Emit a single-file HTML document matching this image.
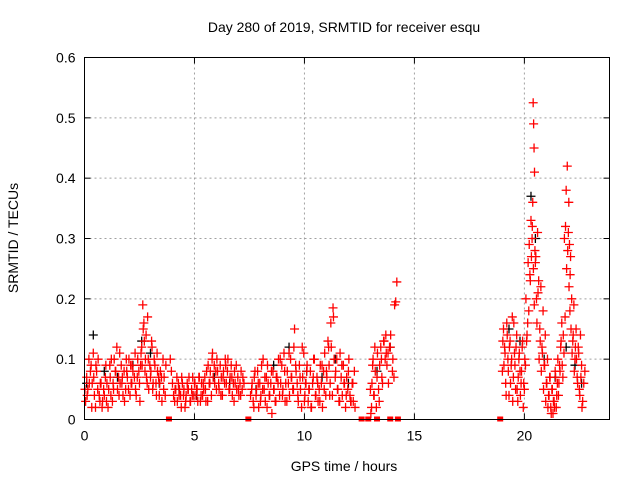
<!DOCTYPE html>
<html><head><meta charset="utf-8"><style>
body{margin:0;background:#fff;}
svg{display:block;font-family:"Liberation Sans",sans-serif;}
</style></head><body>
<svg id="chart" width="640" height="480" xmlns="http://www.w3.org/2000/svg">
<rect width="640" height="480" fill="#fff"/>
<text x="344" y="32" font-size="14" text-anchor="middle">Day 280 of 2019, SRMTID for receiver esqu</text>
<text x="344" y="471" font-size="14" text-anchor="middle">GPS time / hours</text>
<text transform="translate(18,238) rotate(-90)" font-size="14" text-anchor="middle">SRMTID / TECUs</text>
<g id="grid"></g><g id="ticks"></g><g id="marks"></g>
<rect x="84.5" y="57.5" width="525" height="362" fill="none" stroke="#000" stroke-width="1"/>
</svg>
<script>
const xTicks=[0,5,10,15,20];
const yTicks=[0,0.1,0.2,0.3,0.4,0.5,0.6];
const yTickLabels=["0","0.1","0.2","0.3","0.4","0.5","0.6"];
const blackT=[0.1,0.4,0.9,1.5,2.2,2.6,3.0,3.4,4.3,5.1,5.9,6.6,7.8,8.6,9.3,10.1,10.8,11.4,12.0,13.3,13.9,19.3,19.8,20.3,20.5,20.9,21.4,21.9,22.3,22.6];
const blackV=[0.06,0.14,0.08,0.07,0.09,0.13,0.11,0.06,0.05,0.04,0.07,0.06,0.05,0.09,0.12,0.08,0.07,0.1,0.06,0.08,0.12,0.15,0.13,0.37,0.3,0.1,0.07,0.12,0.09,0.06];
const redT=[0.05,0.1,0.15,0.2,0.3,0.35,0.4,0.45,0.5,0.55,0.6,0.7,0.75,0.8,0.9,0.95,1.0,1.1,1.15,1.2,1.3,1.35,1.4,1.5,1.55,1.6,1.7,1.75,1.8,1.9,1.95,2.0,2.1,2.15,2.2,2.3,2.35,2.4,2.5,2.55,2.6,2.65,2.7,2.75,2.8,2.85,2.9,3.0,3.05,3.1,3.2,3.25,3.3,3.4,3.45,3.5,3.6,3.7,
3.9,4.0,4.1,4.15,4.2,4.3,4.4,4.45,4.5,4.6,4.7,4.75,4.8,4.9,5.0,5.1,5.15,5.2,5.3,5.4,5.5,5.55,5.6,5.7,5.8,5.85,5.9,6.0,6.05,6.1,6.2,6.3,6.4,6.45,6.5,6.6,6.7,6.8,6.85,6.9,7.0,7.1,7.2,
7.6,7.7,7.75,7.8,7.9,8.0,8.05,8.1,8.2,8.3,8.35,8.4,8.5,8.6,8.7,8.75,8.8,8.9,9.0,9.1,9.15,9.2,9.3,9.4,9.5,9.55,9.6,9.7,9.8,9.9,10.0,10.05,10.1,10.2,10.3,10.4,10.45,10.5,10.6,10.7,10.8,10.9,11.0,11.1,11.15,11.2,11.3,11.35,11.4,11.5,11.6,11.7,11.8,11.9,12.0,12.1,12.2,12.3,
13.0,13.05,13.1,13.15,13.2,13.3,13.4,13.5,13.55,13.6,13.7,13.75,13.8,13.9,14.0,14.1,14.15,14.2,
19.0,19.05,19.1,19.15,19.2,19.25,19.3,19.35,19.4,19.45,19.5,19.55,19.6,19.65,19.7,19.75,19.8,19.85,19.9,19.95,20.0,20.05,20.1,20.15,20.2,20.25,20.3,20.35,20.38,20.4,20.42,20.44,20.46,20.48,20.5,20.55,20.6,20.65,20.7,20.75,20.8,20.85,20.9,20.95,21.0,21.05,21.1,21.15,21.2,21.25,21.3,21.35,21.4,21.45,21.5,21.55,21.6,21.65,21.7,21.75,21.8,21.85,21.9,21.95,22.0,22.02,22.05,22.08,22.1,22.15,22.2,22.25,22.3,22.35,22.4,22.45,22.5,22.55,22.6,22.65,22.7,22.75];
const redV=[0.03,0.07,0.05,0.1,0.09,0.06,0.11,0.04,0.02,0.08,0.05,0.03,0.06,0.02,0.04,0.07,0.03,0.05,0.09,0.04,0.06,0.1,0.08,0.05,0.07,0.11,0.06,0.04,0.08,0.1,0.07,0.05,0.09,0.06,0.08,0.11,0.04,0.07,0.06,0.09,0.12,0.19,0.16,0.08,0.14,0.06,0.1,0.07,0.13,0.05,0.09,0.06,0.11,0.04,0.08,0.07,0.05,0.09,
0.1,0.06,0.03,0.05,0.07,0.04,0.02,0.06,0.04,0.03,0.05,0.07,0.03,0.04,0.06,0.05,0.03,0.07,0.04,0.06,0.05,0.08,0.03,0.06,0.1,0.07,0.09,0.05,0.08,0.06,0.04,0.07,0.1,0.06,0.08,0.05,0.07,0.03,0.06,0.09,0.05,0.04,0.07,
0.05,0.02,0.08,0.04,0.06,0.03,0.09,0.05,0.07,0.02,0.06,0.04,0.08,0.05,0.03,0.07,0.06,0.1,0.04,0.08,0.06,0.03,0.11,0.07,0.05,0.15,0.09,0.04,0.07,0.12,0.03,0.06,0.08,0.05,0.02,0.07,0.1,0.04,0.06,0.03,0.09,0.05,0.08,0.12,0.04,0.16,0.185,0.1,0.07,0.05,0.03,0.09,0.06,0.04,0.08,0.03,0.06,0.02,
0.05,0.02,0.09,0.04,0.12,0.07,0.03,0.1,0.06,0.13,0.14,0.09,0.11,0.12,0.08,0.19,0.195,0.228,
0.08,0.15,0.12,0.06,0.16,0.1,0.04,0.13,0.09,0.17,0.07,0.11,0.05,0.14,0.03,0.1,0.08,0.06,0.12,0.02,0.05,0.09,0.13,0.16,0.18,0.24,0.33,0.3,0.36,0.525,0.49,0.45,0.41,0.28,0.26,0.2,0.31,0.23,0.15,0.22,0.12,0.18,0.09,0.14,0.06,0.1,0.04,0.07,0.02,0.05,0.01,0.03,0.08,0.02,0.06,0.04,0.09,0.12,0.16,0.07,0.11,0.17,0.38,0.42,0.31,0.36,0.29,0.24,0.27,0.2,0.13,0.19,0.1,0.15,0.07,0.12,0.05,0.14,0.09,0.03,0.06,0.08];
const red2T=[0.02,0.12,0.22,0.27,0.33,0.42,0.52,0.62,0.67,0.72,0.82,0.87,0.97,1.02,1.07,1.17,1.22,1.27,1.32,1.42,1.47,1.57,1.62,1.67,1.72,1.82,1.87,1.92,2.02,2.07,2.12,2.17,2.27,2.32,2.42,2.47,2.52,2.57,2.62,2.67,2.72,2.77,2.82,2.87,2.92,2.97,3.02,3.07,3.12,3.17,3.27,3.32,3.37,3.42,3.52,3.57,3.62,3.67,
3.95,4.05,4.12,4.22,4.27,4.32,4.37,4.42,4.52,4.57,4.62,4.67,4.72,4.82,4.87,4.92,4.97,5.02,5.07,5.12,5.22,5.27,5.32,5.37,5.42,5.47,5.52,5.62,5.67,5.72,5.77,5.82,5.92,5.97,6.02,6.12,6.17,6.22,6.27,6.32,6.37,6.42,6.52,6.57,6.62,6.67,6.72,6.77,6.82,6.92,6.97,7.02,7.07,7.12,7.17,7.25,
7.55,7.62,7.67,7.72,7.82,7.87,7.92,7.97,8.02,8.12,8.17,8.22,8.27,8.32,8.42,8.47,8.52,8.57,8.62,8.67,8.72,8.82,8.87,8.92,8.97,9.02,9.07,9.12,9.22,9.27,9.32,9.37,9.42,9.47,9.52,9.62,9.67,9.72,9.77,9.82,9.87,9.92,9.97,10.02,10.07,10.12,10.17,10.22,10.27,10.32,10.37,10.42,10.52,10.57,10.62,10.67,10.72,10.77,10.82,10.87,10.92,10.97,11.02,11.07,11.12,11.17,11.22,11.27,11.32,11.42,11.47,11.52,11.57,11.62,11.67,11.72,11.77,11.82,11.87,11.92,11.97,12.02,12.07,12.12,12.17,12.22,12.27,
13.02,13.07,13.12,13.17,13.22,13.27,13.32,13.37,13.42,13.47,13.52,13.62,13.67,13.72,13.82,13.87,13.92,14.02,14.07,
19.02,19.07,19.12,19.17,19.22,19.27,19.32,19.37,19.42,19.47,19.52,19.57,19.62,19.67,19.72,19.77,19.82,19.87,19.92,19.97,20.02,20.07,20.12,20.17,20.22,20.27,20.32,20.36,20.41,20.45,20.52,20.57,20.62,20.67,20.72,20.77,20.82,20.87,20.92,20.97,21.02,21.07,21.12,21.17,21.22,21.27,21.32,21.37,21.42,21.47,21.52,21.57,21.62,21.67,21.72,21.77,21.82,21.87,21.92,21.97,22.03,22.07,22.12,22.17,22.22,22.27,22.32,22.37,22.42,22.47,22.52,22.57,22.62,22.67,22.72];
const red2V=[0.05,0.04,0.06,0.08,0.02,0.07,0.09,0.1,0.04,0.06,0.03,0.05,0.09,0.06,0.02,0.07,0.1,0.03,0.05,0.08,0.12,0.04,0.06,0.09,0.07,0.03,0.05,0.08,0.1,0.04,0.06,0.09,0.07,0.05,0.1,0.08,0.03,0.11,0.09,0.15,0.13,0.1,0.07,0.17,0.05,0.09,0.08,0.12,0.06,0.1,0.04,0.08,0.07,0.06,0.03,0.1,0.07,0.04,
0.08,0.04,0.05,0.03,0.06,0.05,0.04,0.07,0.05,0.02,0.04,0.06,0.05,0.03,0.05,0.07,0.04,0.06,0.04,0.05,0.07,0.03,0.06,0.04,0.05,0.07,0.03,0.09,0.06,0.08,0.04,0.11,0.06,0.08,0.1,0.05,0.09,0.07,0.04,0.08,0.06,0.09,0.1,0.05,0.07,0.09,0.04,0.06,0.08,0.05,0.07,0.04,0.06,0.08,0.05,0.06,
0.04,0.06,0.03,0.07,0.05,0.08,0.02,0.06,0.04,0.1,0.05,0.03,0.07,0.09,0.04,0.06,0.01,0.08,0.05,0.03,0.07,0.1,0.04,0.06,0.09,0.05,0.11,0.03,0.08,0.06,0.04,0.1,0.07,0.05,0.12,0.08,0.06,0.03,0.09,0.05,0.02,0.07,0.11,0.04,0.06,0.09,0.03,0.05,0.08,0.02,0.06,0.1,0.04,0.07,0.03,0.05,0.09,0.06,0.02,0.08,0.11,0.04,0.07,0.13,0.09,0.06,0.12,0.04,0.17,0.08,0.1,0.05,0.03,0.11,0.07,0.04,0.09,0.06,0.02,0.07,0.05,0.1,0.04,0.03,0.06,
0.03,0.08,0.01,0.06,0.1,0.04,0.08,0.02,0.11,0.05,0.09,0.12,0.07,0.13,0.1,0.11,0.06,0.12,0.14,
0.1,0.07,0.13,0.09,0.11,0.04,0.14,0.08,0.12,0.06,0.1,0.03,0.16,0.09,0.12,0.05,0.07,0.11,0.04,0.08,0.13,0.06,0.1,0.2,0.14,0.26,0.29,0.23,0.27,0.32,0.25,0.19,0.27,0.16,0.21,0.1,0.13,0.08,0.11,0.05,0.09,0.03,0.06,0.02,0.04,0.07,0.01,0.05,0.03,0.02,0.07,0.04,0.1,0.06,0.08,0.13,0.09,0.14,0.3,0.32,0.25,0.28,0.22,0.18,0.15,0.11,0.14,0.08,0.12,0.1,0.06,0.11,0.04,0.07,0.02];
const sqT=[3.84,7.45,12.6,12.9,13.3,13.9,14.25,18.9];
const X0=84.5,X1=609.5,XMAX=23.87,Y0=419.5,Y1=57.5,YMAX=0.6;
const xs=t=>X0+t/XMAX*(X1-X0);
const ys=v=>Y0-v/YMAX*(Y0-Y1);
const NS="http://www.w3.org/2000/svg";
function mk(tag,attrs,parent){const e=document.createElementNS(NS,tag);for(const k in attrs)e.setAttribute(k,attrs[k]);parent.appendChild(e);return e;}
const grid=document.getElementById('grid'),ticks=document.getElementById('ticks'),marks=document.getElementById('marks');
xTicks.forEach(t=>{const x=xs(t);
 if(t>0){const g=mk('line',{x1:x,x2:x,y1:Y1,y2:Y0,stroke:'#a0a0a0','stroke-dasharray':'2,3'},grid);
 
 }
 const tl=mk('text',{x:x,y:Y0+21,'font-size':14,'text-anchor':'middle'},ticks);tl.textContent=t;
 
 
 mk('line',{x1:x,x2:x,y1:Y0,y2:Y0-6,stroke:'#000'},ticks);mk('line',{x1:x,x2:x,y1:Y1,y2:Y1+6,stroke:'#000'},ticks);});
yTicks.forEach((v,i)=>{const y=ys(v);
 if(v>0&&v<YMAX){const g=mk('line',{x1:X0,x2:X1,y1:y,y2:y,stroke:'#a0a0a0','stroke-dasharray':'2,3'},grid);
 
 }
 const tl=mk('text',{x:X0-9,y:y+5,'font-size':14,'text-anchor':'end'},ticks);tl.textContent=yTickLabels[i];
 
 
 mk('line',{x1:X0,x2:X0+6,y1:y,y2:y,stroke:'#000'},ticks);mk('line',{x1:X1,x2:X1-6,y1:y,y2:y,stroke:'#000'},ticks);});
function plus(t,v,c,name){const x=xs(t),y=ys(v);
 const p=mk('path',{d:`M${x-4.5},${y}h9M${x},${y-4.5}v9`,stroke:c,'stroke-width':1.3,fill:'none'},marks);
 
 }
blackT.forEach((t,i)=>plus(t,blackV[i],'#000','black-point'));
redT.forEach((t,i)=>plus(t,redV[i],'#f00','red-point'));
red2T.forEach((t,i)=>plus(t,red2V[i],'#f00','red-point'));
sqT.forEach(t=>{const s=mk('rect',{x:xs(t)-3,y:Y0-3,width:6,height:5,fill:'#f00'},marks);
 
 });
</script>
</body></html>
